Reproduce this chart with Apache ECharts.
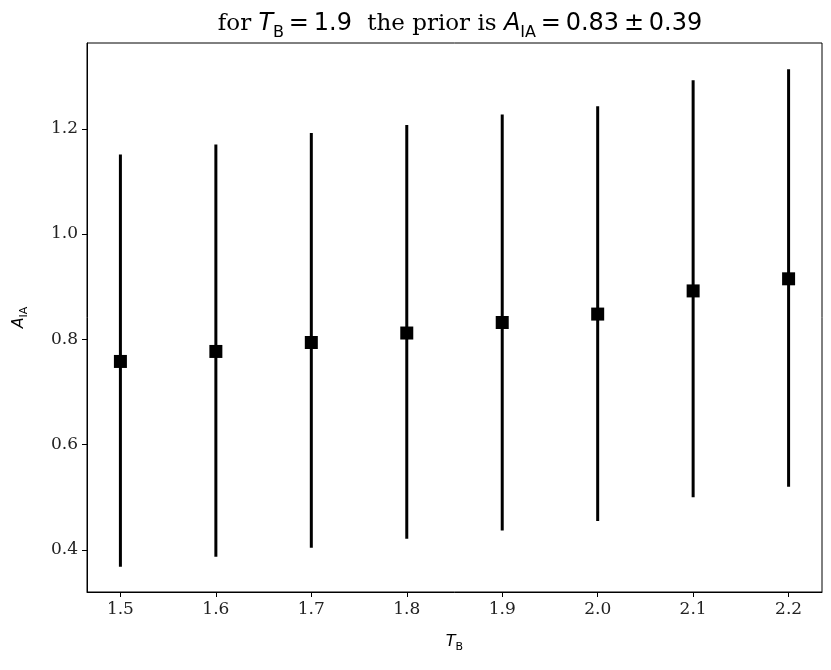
<!DOCTYPE html>
<html>
<head>
<meta charset="utf-8">
<script src="https://cdn.jsdelivr.net/npm/echarts@6/dist/echarts.min.js"></script>
<style>
html,body{margin:0;padding:0;background:#fff;}
#main{width:831px;height:670px;}
</style>
</head>
<body>
<div id="main"></div>
<script>
// Data
var tB = [1.5, 1.6, 1.7, 1.8, 1.9, 2.0, 2.1, 2.2];
var aIA = [0.758, 0.777, 0.794, 0.812, 0.832, 0.848, 0.892, 0.915];
var lower = [0.368, 0.387, 0.404, 0.421, 0.437, 0.455, 0.500, 0.520];
var upper = [1.151, 1.170, 1.192, 1.207, 1.227, 1.243, 1.292, 1.313];
var xTicks = [1.5, 1.6, 1.7, 1.8, 1.9, 2.0, 2.1, 2.2];
var yTicks = [0.4, 0.6, 0.8, 1.0, 1.2];

var chart = echarts.init(document.getElementById('main'));

var errData = tB.map(function (x, i) { return [x, lower[i], upper[i]]; });
var ptData = tB.map(function (x, i) { return [x, aIA[i]]; });

var tickFont = { fontFamily: 'DejaVu Serif', fontSize: 17, color: '#222' };
var th = '\u2009';

chart.setOption({
  animation: false,
  backgroundColor: '#fff',
  title: {
    text: '{t|for }{i|T}{s|B}{m|' + th + '=' + th + '1.9  }{t|the prior is }{i|A}{s|IA}{m|' + th + '=' + th + '0.83' + th + '±' + th + '0.39}',
    left: 455,
    textAlign: 'center',
    top: 3,
    textStyle: {
      fontWeight: 'normal',
      rich: {
        t: { fontFamily: 'DejaVu Serif', fontWeight: 'normal', fontSize: 23, color: '#000', verticalAlign: 'bottom', lineHeight: 28 },
        i: { fontFamily: 'DejaVu Sans', fontWeight: 'normal', fontStyle: 'italic', fontSize: 24, color: '#000', verticalAlign: 'bottom', lineHeight: 28 },
        s: { fontFamily: 'DejaVu Sans', fontWeight: 'normal', fontSize: 16, color: '#000', verticalAlign: 'bottom', lineHeight: 28, padding: [0, 0, -5, 0] },
        m: { fontFamily: 'DejaVu Sans', fontWeight: 'normal', fontSize: 24, color: '#000', verticalAlign: 'bottom', lineHeight: 28 }
      }
    }
  },
  grid: {
    left: 87, right: 9, top: 43, bottom: 78,
    show: true, borderColor: '#000', borderWidth: 1, backgroundColor: 'transparent'
  },
  xAxis: {
    type: 'value',
    min: 1.465, max: 2.235,
    name: '{i|T}{s|B}',
    nameLocation: 'middle',
    nameGap: 38,
    nameTextStyle: {
      rich: {
        i: { fontFamily: 'DejaVu Sans', fontStyle: 'italic', fontSize: 16, color: '#000', verticalAlign: 'bottom', lineHeight: 20 },
        s: { fontFamily: 'DejaVu Sans', fontSize: 11, color: '#000', verticalAlign: 'bottom', lineHeight: 20, padding: [0, 0, -3, 0] }
      }
    },
    axisLine: { show: true, lineStyle: { color: '#000', width: 1 } },
    axisTick: { show: true, inside: false, length: 5, lineStyle: { color: '#000' }, customValues: xTicks },
    axisLabel: Object.assign({ customValues: xTicks, margin: 9, formatter: function (v) { return v.toFixed(1); } }, tickFont),
    splitLine: { show: false }
  },
  yAxis: {
    type: 'value',
    min: 0.320, max: 1.363,
    name: '{i|A}{s|IA}',
    nameLocation: 'middle',
    nameRotate: 90,
    nameGap: 60,
    nameTextStyle: {
      rich: {
        i: { fontFamily: 'DejaVu Sans', fontStyle: 'italic', fontSize: 16, color: '#000', verticalAlign: 'bottom', lineHeight: 20 },
        s: { fontFamily: 'DejaVu Sans', fontSize: 11, color: '#000', verticalAlign: 'bottom', lineHeight: 20, padding: [0, 0, -3, 0] }
      }
    },
    axisLine: { show: true, lineStyle: { color: '#000', width: 1 } },
    axisTick: { show: true, inside: false, length: 5, lineStyle: { color: '#000' }, customValues: yTicks },
    axisLabel: Object.assign({ customValues: yTicks, margin: 9, formatter: function (v) { return v.toFixed(1); } }, tickFont),
    splitLine: { show: false }
  },
  series: [
    {
      type: 'custom',
      z: 2,
      data: errData,
      renderItem: function (params, api) {
        var p1 = api.coord([api.value(0), api.value(1)]);
        var p2 = api.coord([api.value(0), api.value(2)]);
        return {
          type: 'line',
          shape: { x1: p1[0], y1: p1[1], x2: p2[0], y2: p2[1] },
          style: { stroke: '#000', lineWidth: 3 }
        };
      }
    },
    {
      type: 'scatter',
      z: 3,
      symbol: 'rect',
      symbolSize: 13,
      itemStyle: { color: '#000', opacity: 1 },
      emphasis: { disabled: true },
      data: ptData
    }
  ]
});
</script>
</body>
</html>
